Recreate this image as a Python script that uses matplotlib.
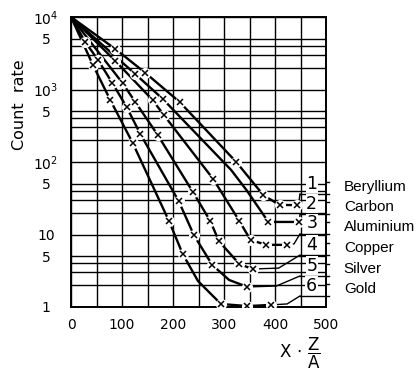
import numpy as np
import matplotlib
matplotlib.use("Agg")
import matplotlib.pyplot as plt

# values (x = X*Z/A, y = count rate)
be_x = [87, 146, 213, 324, 377, 409, 443]
be_y = [3620, 1690, 673, 100, 35, 25.5, 25.5]
c_x = [126, 180, 387, 447]
c_y = [1636, 740, 14.9, 14.9]
al_x = [87, 160, 182, 279, 330, 352, 383, 423]
al_y = [2473, 716, 445, 58, 15.4, 8.4, 7.2, 7.2]
cu_x = [101, 126, 170, 239, 273, 290, 330, 356]
cu_y = [1230, 673, 236, 38.6, 15.4, 8.1, 3.92, 3.34]
ag_x = [28, 53, 81, 109, 136, 211, 241, 277, 346]
ag_y = [4520, 2553, 1230, 574, 243, 29, 9.8, 3.8, 1.89]
au_x = [43, 77, 121, 192, 219, 294, 346, 393]
au_y = [2178, 716, 183, 15.4, 5.4, 1.1, 1.03, 1.07]

# extra points on the drawn curves (no marker there)
c_path = [(314, 77.6), (344, 41.1)]
ag_path = [(310, 2.36)]
au_path = [(249, 2.28)]

start = (0, 1e4)
names = ["Beryllium", "Carbon", "Aluminium", "Copper", "Silver", "Gold"]
numbers = ["1", "2", "3", "4", "5", "6"]
label_y = [36.2, 19.2, 10.2, 5.2, 2.68, 1.42]

series = [
    (be_x, be_y, []),
    (c_x, c_y, c_path),
    (al_x, al_y, []),
    (cu_x, cu_y, []),
    (ag_x, ag_y, ag_path),
    (au_x, au_y, au_path),
]

fig = plt.figure(figsize=(4.16, 3.72), dpi=100)
ax = fig.add_axes([71 / 416, 1 - 307 / 372, 255 / 416, 290 / 372])
ax.set_yscale("log")
ax.set_xlim(0, 500)
ax.set_ylim(1, 1e4)

ax.set_xticks(range(0, 501, 100))
ax.set_xticks(range(50, 500, 100), minor=True)
ax.set_yticks([1, 5, 10, 50, 100, 500, 1000, 5000, 10000])
ax.set_yticklabels(["1", "5", "10", "5", "$10^2$", "5", "$10^3$", "5", "$10^4$"])
ax.set_yticks([m * d for d in (1, 10, 100, 1000) for m in (2, 3, 4)], minor=True)
ax.yaxis.set_minor_formatter(matplotlib.ticker.NullFormatter())
ax.grid(True, which="both", color="black", lw=1.0)
ax.tick_params(which="both", length=0, labelsize=10)
ax.tick_params(axis="x", pad=8)
ax.tick_params(axis="y", pad=18)
for t in ax.get_yticklabels():
    t.set_horizontalalignment("center")
for s in ax.spines.values():
    s.set_linewidth(1.4)

for (xs, ys, extra), ly, num, name in zip(series, label_y, numbers, names):
    pts = sorted([start] + list(zip(xs, ys)) + extra)
    px, py = zip(*pts)
    ax.plot(px, py, color="black", lw=1.7, zorder=3, solid_capstyle="round")
    ax.plot(xs, ys, "o", ms=8, color="white", mec="none", zorder=4)
    ax.plot(xs, ys, "x", ms=5, mew=1.1, color="black", zorder=5)
    # leader line from last point to the label
    lx, lyy = xs[-1], ys[-1]
    ax.plot([lx, lx + (449 - lx) * 0.55, 449], [lyy, lyy * 1.03, ly],
            color="black", lw=1.0, zorder=3, clip_on=False)
    ax.plot([449, 506], [ly, ly], color="black", lw=1.0, zorder=3, clip_on=False)
    ax.plot([500, 506], [ly * 1.45, ly * 1.45], color="black", lw=1.0, clip_on=False)
    ax.annotate(num, (472, ly), xytext=(0, 1), textcoords="offset points",
                ha="center", va="bottom", fontsize=12.5,
                bbox=dict(fc="white", ec="none", pad=0.5), zorder=6)
    ax.annotate(name, (535, ly), xytext=(0, 0), textcoords="offset points",
                ha="left", va="bottom", fontsize=11, family="Liberation Sans",
                annotation_clip=False)

fig.text(20 / 416, 1 - 105 / 372, "Count  rate", rotation=90,
         ha="center", va="center", fontsize=11.5)
fig.text(300 / 416, 1 - 353 / 372, r"$\mathrm{X}\,\cdot\,\dfrac{\mathrm{Z}}{\mathrm{A}}$",
         ha="center", va="center", fontsize=12)

fig.savefig("out.png", dpi=100)
